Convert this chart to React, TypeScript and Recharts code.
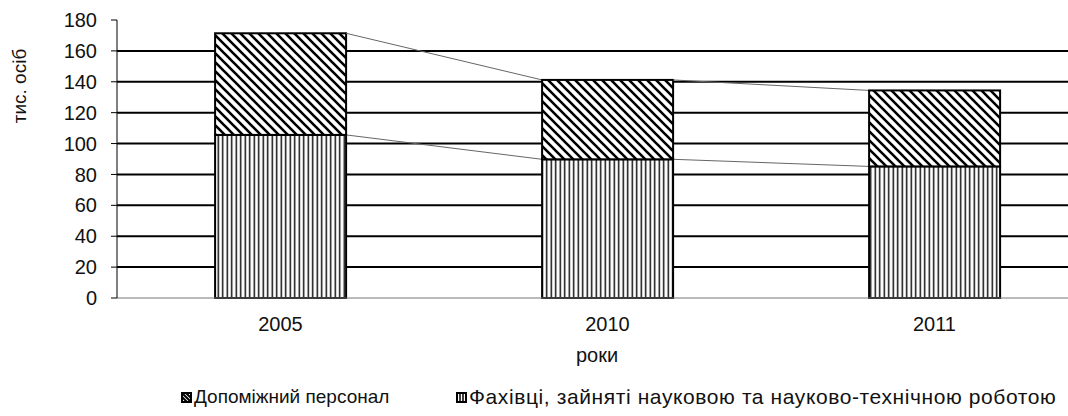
import { Bar, BarChart, CartesianGrid, Label, XAxis, YAxis } from "recharts";

const years = ["2005", "2010", "2011"];
const specialists = [105.6, 89.8, 85.2];
const auxiliary = [65.8, 51.4, 49.2];
const yTicks = [0, 20, 40, 60, 80, 100, 120, 140, 160, 180];
const gridValues = [20, 40, 60, 80, 100, 120, 140, 160];

const legendAux = "Допоміжний персонал";
const legendSpec = "Фахівці, зайняті науковою та науково-технічною роботою";

const data = years.map((year, i) => ({ year, specialists: specialists[i], auxiliary: auxiliary[i] }));

const CHART_W = 1100;
const CHART_H = 416;
const MARGIN = { top: 20, right: 2, bottom: 88, left: 0 };
const Y_AXIS_W = 117;
const STEP = (CHART_W - MARGIN.left - MARGIN.right - Y_AXIS_W) / years.length;

const FONT = "'Liberation Sans', Arial, sans-serif";

// excel-style stacked bar with the thin "series line" to the next column
function stackShape(kind: "spec" | "aux") {
  return (props: any) => {
    const { x, y, width, height, index } = props;
    const own = kind === "spec" ? specialists[index] : auxiliary[index];
    const ppu = height / own;
    const base = kind === "spec" ? y + height : y + height + specialists[index] * ppu;
    const hasNext = index < years.length - 1;
    let nextY = 0;
    if (hasNext) {
      const nextTotal =
        kind === "spec" ? specialists[index + 1] : specialists[index + 1] + auxiliary[index + 1];
      nextY = base - nextTotal * ppu;
    }
    return (
      <g>
        <rect
          x={x}
          y={y}
          width={width}
          height={height}
          fill={kind === "spec" ? "url(#vert)" : "url(#diag)"}
          stroke="#000"
          strokeWidth={2}
        />
        {hasNext && (
          <line x1={x + width} y1={y} x2={x + STEP} y2={nextY} stroke="#666" strokeWidth={1} />
        )}
      </g>
    );
  };
}

function LegendIcon({ kind }: { kind: "spec" | "aux" }) {
  return (
    <svg width={11} height={11} style={{ marginRight: 2 }}>
      <rect x={1} y={1} width={9} height={9} fill="#fff" stroke="#000" strokeWidth={2} />
      {kind === "aux" ? (
        <path d="M1,1 L10,10 M1,5 L6,10 M5,1 L10,6" stroke="#000" strokeWidth={2} />
      ) : (
        <path d="M4,1 V10 M7,1 V10" stroke="#000" strokeWidth={1.5} />
      )}
    </svg>
  );
}

export default function App() {
  return (
    <div
      style={{
        position: "absolute",
        left: 0,
        top: 0,
        width: 1068,
        height: 416,
        overflow: "hidden",
        background: "#fff",
        fontFamily: FONT,
      }}
    >
      <BarChart width={CHART_W} height={CHART_H} data={data} margin={MARGIN} barCategoryGap="30%">
        <defs>
          <pattern id="diag" patternUnits="userSpaceOnUse" width={9} height={9}>
            <rect width={9} height={9} fill="#fff" />
            <path d="M-2,-2 L11,11 M-2,7 L2,11 M7,-2 L11,2" stroke="#000" strokeWidth={2.6} />
          </pattern>
          <pattern id="vert" patternUnits="userSpaceOnUse" width={4.5} height={10}>
            <rect width={4.5} height={10} fill="#fff" />
            <line x1={2.25} y1={0} x2={2.25} y2={10} stroke="#000" strokeWidth={1.4} />
          </pattern>
        </defs>
        <CartesianGrid vertical={false} horizontalValues={gridValues} stroke="#000" strokeWidth={2} />
        <XAxis
          dataKey="year"
          height={30}
          tickSize={0}
          tickMargin={19}
          axisLine={{ stroke: "#777", strokeWidth: 1 }}
          tick={{ fill: "#111", fontSize: 20, fontFamily: FONT }}
        >
          <Label
            content={() => (
              <text x={597} y={362} textAnchor="middle" fill="#111" fontSize={20} fontFamily={FONT}>
                роки
              </text>
            )}
          />
        </XAxis>
        <YAxis
          width={Y_AXIS_W}
          domain={[0, 180]}
          ticks={yTicks}
          interval={0}
          tickSize={6}
          tickMargin={14}
          axisLine={{ stroke: "#000", strokeWidth: 1 }}
          tickLine={{ stroke: "#000", strokeWidth: 1 }}
          tick={{ fill: "#111", fontSize: 20, fontFamily: FONT }}
        >
          <Label
            content={() => (
              <text
                x={26}
                y={86}
                textAnchor="middle"
                fill="#111"
                fontSize={19}
                fontFamily={FONT}
                transform="rotate(-90 26 86)"
              >
                тис. осіб
              </text>
            )}
          />
        </YAxis>
        <Bar dataKey="specialists" stackId="a" shape={stackShape("spec")} isAnimationActive={false} />
        <Bar dataKey="auxiliary" stackId="a" shape={stackShape("aux")} isAnimationActive={false} />
      </BarChart>
      <div
        style={{
          position: "absolute",
          top: 386,
          left: 181,
          fontSize: 19,
          color: "#111",
          display: "flex",
          alignItems: "center",
          whiteSpace: "nowrap",
        }}
      >
        <LegendIcon kind="aux" />
        {legendAux}
      </div>
      <div
        style={{
          position: "absolute",
          top: 385,
          left: 456,
          fontSize: 21,
          letterSpacing: 0.6,
          color: "#111",
          display: "flex",
          alignItems: "center",
          whiteSpace: "nowrap",
        }}
      >
        <LegendIcon kind="spec" />
        {legendSpec}
      </div>
    </div>
  );
}
